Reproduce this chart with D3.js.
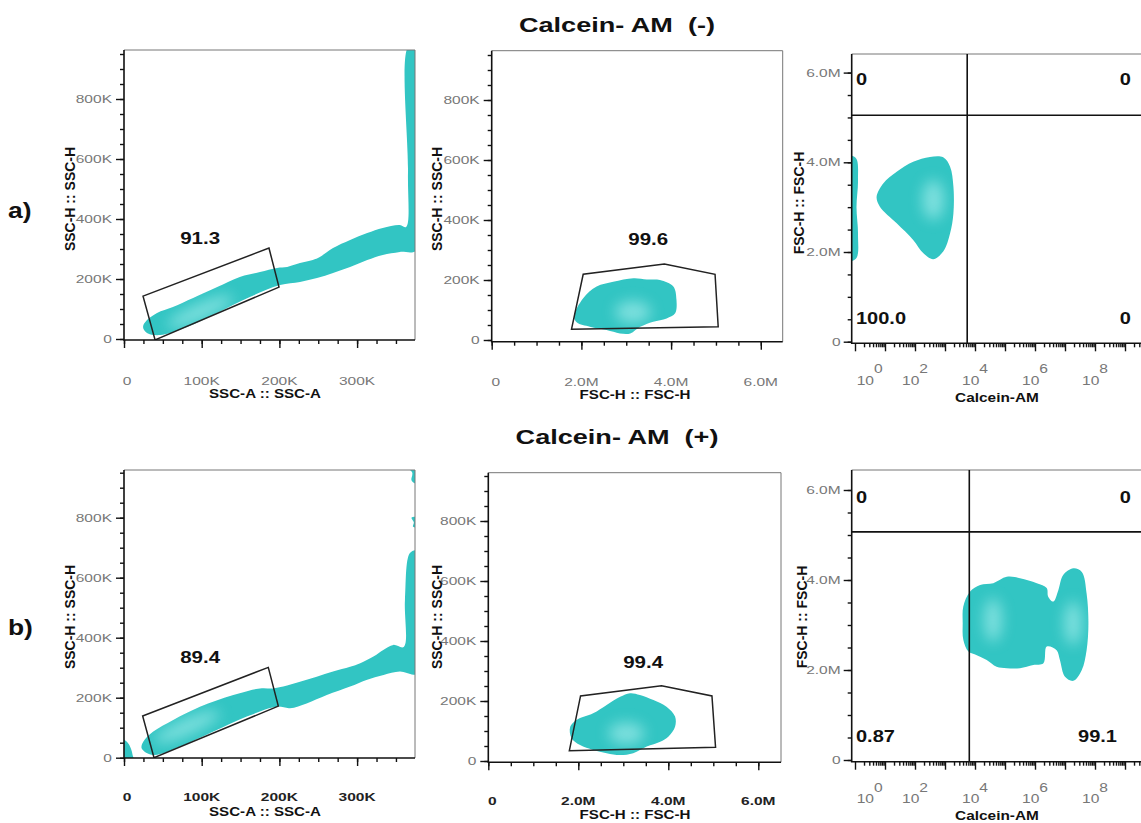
<!DOCTYPE html>
<html>
<head>
<meta charset="utf-8">
<script src="https://cdn.jsdelivr.net/npm/d3@7"></script>
<style>
  body { margin: 0; background: #fff; }
  svg { display: block; }
</style>
</head>
<body>
<div id="chart"></div>
<script>
// values
var headers = ["Calcein- AM  (-)", "Calcein- AM  (+)"];
var rowLabels = ["a)", "b)"];

// tick values (SSC in thousands, FSC in millions, Calcein as log10 exponent)
var sscATicks = [0, 100, 200, 300];
var sscHTicks = [0, 200, 400, 600, 800];
var fscTicks = [0, 2, 4, 6];
var calExpLabels = [0, 2, 4, 6, 8];

var gatePct = [["91.3", "99.6"], ["89.4", "99.4"]];
// quadrant stats: upper-left, upper-right, lower-left, lower-right
var quadPct = [["0", "0", "100.0", "0"], ["0", "0", "0.87", "99.1"]];
var quadCutExp = [3.74, 3.81];
var quadCutFsc = [5.05, 5.07];

// where FlowJo put the gate percentages (data units)
var sscPctAt = [[98, 338], [98, 336]];
var fscPctAt = [[3.49, 336], [3.44, 331]];

// SSC-A vs SSC-H populations (K, K)
var sscBand_a = [[29.6,20],[46.3,13],[81,40],[119.7,87],[162,140],[200.8,180],[226.5,190],[248.4,203],[269,220],[291,240],[313,263],[333,280],[355,290],[377,297],[377,975],[366,975],[365.5,553],[363,373],[355,380],[333,370],[313,353],[291,330],[269,303],[252,273],[243,263],[226.5,253],[210,240],[197,237],[175,223],[149,207],[120,173],[89,137],[63,107],[42.5,87],[29.6,63],[24.5,40]];
var sscBand_b = [[22.8,31],[37.7,9],[72,37],[115,87],[158,137],[196.5,170],[213.6,165],[235,181],[261,209],[291,237],[312,259],[334,276],[355,287],[377,281],[377,690],[368,682],[361.6,526],[360,369],[346.6,376],[333.7,359],[321,337],[304,315],[291,303],[269,287],[248,270],[226.5,253],[205,237],[192,231],[175,231],[140.7,209],[97.8,170],[63.4,126],[37.7,87],[24.8,53]];
var sscSpecks_b = [
  [[-4,64],[4,52],[9,30],[11,10],[12,-6],[-4,-6]],
  [[366,965],[371,950],[370,925],[374,915],[380,915],[380,965]],
  [[370,800],[373,785],[372,770],[380,770],[380,800]]
];
var sscGate_a = [[24.5,143],[186.6,303],[199.5,173],[40,-3]];
var sscGate_b = [[24,139],[185.7,301],[198.6,172],[38.6,0]];
var sscCore_a = [[98, 91]];
var sscCore_b = [[81, 103]];

// FSC-H vs SSC-H populations (M, K)
var fscBlob_a = [[1.835,78],[2.04,139],[2.34,178],[2.71,194],[3.16,206],[3.46,202],[3.75,200],[4.05,178],[4.12,133],[4.09,89],[3.9,72],[3.6,61],[3.31,44],[3.09,22],[2.86,22],[2.56,33],[2.19,44],[1.9,58]];
var fscBlob_b = [[1.82,114],[1.96,137],[2.33,159],[2.63,187],[2.93,214],[3.15,226],[3.37,220],[3.67,203],[3.96,181],[4.15,148],[4.15,114],[4.0,81],[3.82,64],[3.52,48],[3.22,26],[2.93,20],[2.63,26],[2.33,37],[2.04,53],[1.85,76]];
var fscGate_a = [[1.78,36],[2.04,219],[3.85,253],[4.98,219],[5.05,44]];
var fscGate_b = [[1.8,34],[2.05,217],[3.85,251],[4.97,217],[5.05,46]];
var fscCore_a = [[3.15, 93]];
var fscCore_b = [[3.07, 92]];

// Calcein-AM (log10) vs FSC-H (M)
var calBlob_a = [[0.72,3.23],[0.94,3.53],[1.39,3.79],[1.94,4.01],[2.5,4.12],[2.94,4.11],[3.17,3.9],[3.28,3.46],[3.28,2.86],[3.17,2.42],[2.94,2.01],[2.61,1.84],[2.28,1.97],[1.94,2.27],[1.39,2.64],[0.83,3.01]];
var calEdge_a = [[-0.4,4.12],[0.02,4.1],[0.1,3.6],[0.05,3.0],[0.1,2.4],[0.03,1.85],[-0.4,1.82]];
var calBlob_b = [[3.61,3.41],[3.83,3.74],[4.17,3.89],[4.61,3.93],[5.06,4.07],[5.5,4.04],[6.06,3.93],[6.39,3.82],[6.44,3.63],[6.61,3.52],[6.78,3.78],[6.94,4.11],[7.28,4.26],[7.56,4.18],[7.72,3.7],[7.78,3.04],[7.72,2.44],[7.56,2.0],[7.28,1.76],[7.0,1.85],[6.83,2.22],[6.72,2.44],[6.39,2.52],[6.28,2.15],[5.94,2.11],[5.5,2.04],[5.06,2.04],[4.72,2.07],[4.39,2.22],[4.06,2.33],[3.78,2.41],[3.61,2.67],[3.59,3.04]];
var calCore_a = [[2.61, 3.16]];
var calCore_b = [[7.27, 3.04], [4.6, 3.11]];

// ---- layout ----
var rows = [
  { labelY: 218, headY: 31.5, xLabDy: 44.5, tickBold: false,
    ssc: {l:124, t:50, r:415, b:340, x0:124, y0:339, titleY:199},
    fsc: {l:491.7, t:50.7, r:782.7, b:341.7, x0:491.7, y0:340, pxM:44.85, titleY:199},
    cal: {l:851.7, t:54, r:1145, b:343.3, y0:341.7, pxM:44.85, titleY:203},
    qPos: [[856,"start",85],[1131,"end",85],[856,"start",324.3],[1131,"end",324.3]] },
  { labelY: 635, headY: 444, xLabDy: 43, tickBold: true,
    ssc: {l:124, t:470, r:415, b:758, x0:124, y0:757.7, titleY:617},
    fsc: {l:488.3, t:472.7, r:781, b:762.3, x0:488.3, y0:761, pxM:45, titleY:617},
    cal: {l:851.7, t:470, r:1145, b:761.7, y0:760, pxM:45, titleY:617},
    qPos: [[856,"start",503],[1131,"end",503],[856,"start",742],[1117,"end",742]] }
];

var cyan = "#31c5c3";
var W = 1141, H = 823;
var svg = d3.select("#chart").append("svg").attr("width", W).attr("height", H);
var defs = svg.append("defs");
defs.append("filter").attr("id", "soft").append("feGaussianBlur").attr("stdDeviation", 0.6);
defs.append("filter").attr("id", "glow")
  .attr("x", "-100%").attr("y", "-100%").attr("width", "300%").attr("height", "300%")
  .append("feGaussianBlur").attr("stdDeviation", 7);
var idN = 0;

function txt(g, x, y, s, o) {
  o = o || {};
  var tr = "translate(" + x + "," + y + ")";
  if (o.sx) tr += " scale(" + o.sx + ",1)";
  if (o.rot) tr += " rotate(" + o.rot + ")";
  var t = g.append("text")
    .attr("transform", tr)
    .attr("text-anchor", o.anchor || "middle")
    .attr("font-family", "'Liberation Sans', Arial, sans-serif")
    .attr("font-size", o.size || 12)
    .attr("font-weight", o.bold ? "bold" : "normal")
    .attr("fill", o.fill || "#111")
    .style("white-space", "pre")
    .text(s);
  if (o.mid) t.attr("dominant-baseline", "central");
  return t;
}

function frame(box) {
  var g = svg.append("g");
  var id = "clip" + (idN++);
  defs.append("clipPath").attr("id", id).append("rect")
    .attr("x", box.l).attr("y", box.t)
    .attr("width", Math.min(box.r, W) - box.l).attr("height", box.b - box.t);
  var plot = g.append("g").attr("clip-path", "url(#" + id + ")");
  g.append("path")
    .attr("d", "M" + box.l + "," + box.t + "H" + box.r + "V" + box.b)
    .attr("fill", "none").attr("stroke", "#777").attr("stroke-width", 1);
  g.append("path")
    .attr("d", "M" + box.l + "," + box.t + "V" + box.b + "H" + box.r)
    .attr("fill", "none").attr("stroke", "#111").attr("stroke-width", 1.6);
  return { g: g, plot: plot };
}

function ticks(g, box, scale, major, minor, side) {
  [[major, 8], [minor, 4]].forEach(function (m) {
    var ax = side === "left" ? d3.axisLeft(scale) : d3.axisBottom(scale);
    ax.tickValues(m[0]).tickSize(m[1]).tickFormat("");
    g.append("g")
      .attr("transform", side === "left" ? "translate(" + box.l + ",0)" : "translate(0," + box.b + ")")
      .attr("color", "#111")
      .call(ax)
      .call(function (a) { a.select(".domain").remove(); a.selectAll("line").attr("stroke-width", 1.4); });
  });
}

var blobLine = d3.line().curve(d3.curveCatmullRomClosed.alpha(0.5));
var gateLine = d3.line().curve(d3.curveLinearClosed);

function blob(plot, pts, x, y, cores, shape) {
  var d = blobLine(pts.map(function (p) { return [x(p[0]), y(p[1])]; }));
  plot.append("path").attr("d", d).attr("fill", cyan).attr("filter", "url(#soft)");
  if (!cores) return;
  var id = "blob" + (idN++);
  defs.append("clipPath").attr("id", id).append("path").attr("d", d);
  var cg = plot.append("g").attr("clip-path", "url(#" + id + ")");
  cores.forEach(function (c) {
    var cx = x(c[0]), cy = y(c[1]);
    cg.append("ellipse")
      .attr("cx", cx).attr("cy", cy).attr("rx", shape.rx).attr("ry", shape.ry)
      .attr("transform", "rotate(" + (shape.rot || 0) + "," + cx + "," + cy + ")")
      .attr("fill", "#c9fbf9").attr("opacity", 0.5).attr("filter", "url(#glow)");
  });
}

function gate(plot, pts, x, y) {
  plot.append("path")
    .attr("d", gateLine(pts.map(function (p) { return [x(p[0]), y(p[1])]; })))
    .attr("fill", "none").attr("stroke", "#222").attr("stroke-width", 1.5);
}

function range(a, b, s) { var r = []; for (var v = a; v <= b + 1e-9; v += s) r.push(+v.toFixed(3)); return r; }

rows.forEach(function (row, ri) {
  // header + row letter
  txt(svg, 617, row.headY, headers[ri], { size: 21, bold: true, sx: 1.29 });
  txt(svg, 8, row.labelY, rowLabels[ri], { size: 22, bold: true, sx: 1.2, anchor: "start" });

  var xLabFill = row.tickBold ? "#222" : "#777";
  var xLabBold = row.tickBold;

  // ---- SSC-A vs SSC-H ----
  var b = row.ssc;
  var x = d3.scaleLinear().domain([0, 100]).range([b.x0, b.x0 + 77.7]);
  var y = d3.scaleLinear().domain([0, 200]).range([b.y0, b.y0 - 60]);
  var f = frame(b);
  blob(f.plot, ri ? sscBand_b : sscBand_a, x, y, ri ? sscCore_b : sscCore_a, { rx: 36, ry: 8, rot: -24 });
  if (ri) sscSpecks_b.forEach(function (s) { blob(f.plot, s, x, y); });
  gate(f.plot, ri ? sscGate_b : sscGate_a, x, y);
  ticks(f.g, b, y, sscHTicks, range(0, 950, 50), "left");
  ticks(f.g, b, x, sscATicks, range(0, 350, 25), "bottom");
  sscHTicks.forEach(function (v) {
    txt(f.g, b.l - 12, y(v) + 4, v ? v + "K" : "0", { size: 11.5, sx: 1.35, fill: "#777", anchor: "end" });
  });
  sscATicks.forEach(function (v) {
    txt(f.g, x(v) + (v ? 0 : 3), b.b + row.xLabDy, v ? v + "K" : "0", { size: 11.5, sx: 1.35, fill: xLabFill, bold: xLabBold });
  });
  txt(f.g, 265, b.b + 58, "SSC-A :: SSC-A", { size: 13.5, bold: true, sx: 1.12 });
  txt(f.g, 70, b.titleY, "SSC-H :: SSC-H", { size: 14, bold: true, rot: -90, mid: true });
  var pa = sscPctAt[ri];
  txt(f.g, x(pa[0]), y(pa[1]) + 6, gatePct[ri][0], { size: 16, bold: true, sx: 1.28 });

  // ---- FSC-H vs SSC-H ----
  b = row.fsc;
  x = d3.scaleLinear().domain([0, 2]).range([b.x0, b.x0 + 2 * b.pxM]);
  y = d3.scaleLinear().domain([0, 200]).range([b.y0, b.y0 - 60]);
  f = frame(b);
  blob(f.plot, ri ? fscBlob_b : fscBlob_a, x, y, ri ? fscCore_b : fscCore_a, { rx: 18, ry: 11 });
  gate(f.plot, ri ? fscGate_b : fscGate_a, x, y);
  ticks(f.g, b, y, sscHTicks, range(0, 950, 50), "left");
  ticks(f.g, b, x, fscTicks, range(0, 6, 0.5), "bottom");
  sscHTicks.forEach(function (v) {
    txt(f.g, b.l - 12, y(v) + 4, v ? v + "K" : "0", { size: 11.5, sx: 1.35, fill: "#777", anchor: "end" });
  });
  fscTicks.forEach(function (v) {
    txt(f.g, x(v) + (v ? 0 : 4), b.b + row.xLabDy, v ? v.toFixed(1) + "M" : "0", { size: 11.5, sx: 1.35, fill: xLabFill, bold: xLabBold });
  });
  txt(f.g, 635, b.b + 57, "FSC-H :: FSC-H", { size: 13.5, bold: true, sx: 1.12 });
  txt(f.g, 437, b.titleY, "SSC-H :: SSC-H", { size: 14, bold: true, rot: -90, mid: true });
  pa = fscPctAt[ri];
  txt(f.g, x(pa[0]), y(pa[1]) + 6, gatePct[ri][1], { size: 16, bold: true, sx: 1.28 });

  // ---- Calcein-AM vs FSC-H ----
  b = row.cal;
  var xl = d3.scaleLog().domain([1, 1e4]).range([855, 975]);
  x = function (e) { return xl(Math.pow(10, e)); };
  y = d3.scaleLinear().domain([0, 2]).range([b.y0, b.y0 - 2 * b.pxM]);
  f = frame(b);
  if (ri) {
    blob(f.plot, calBlob_b, x, y, calCore_b, { rx: 9, ry: 22 });
  } else {
    blob(f.plot, calEdge_a, x, y);
    blob(f.plot, calBlob_a, x, y, calCore_a, { rx: 11, ry: 20 });
  }
  // quadrant lines
  f.g.append("line").attr("x1", x(quadCutExp[ri])).attr("x2", x(quadCutExp[ri]))
    .attr("y1", b.t).attr("y2", b.b).attr("stroke", "#111").attr("stroke-width", 1.6);
  f.g.append("line").attr("x1", b.l).attr("x2", b.r)
    .attr("y1", y(quadCutFsc[ri])).attr("y2", y(quadCutFsc[ri])).attr("stroke", "#111").attr("stroke-width", 1.6);
  var decades = range(0, 9, 1).map(function (e) { return Math.pow(10, e); });
  var minor = [];
  decades.forEach(function (d) { for (var j = 2; j <= 9; j++) minor.push(d * j); });
  ticks(f.g, b, y, fscTicks, range(0, 6, 0.5), "left");
  ticks(f.g, b, xl, decades, minor, "bottom");
  fscTicks.forEach(function (v) {
    txt(f.g, b.l - 11, y(v) + 4, v ? v.toFixed(1) + "M" : "0", { size: 11.5, sx: 1.35, fill: "#777", anchor: "end" });
  });
  calExpLabels.forEach(function (e) {
    var cx = Math.max(x(e), b.l + 18);
    var t = txt(f.g, cx, b.b + 41.5, "10", { size: 12, sx: 1.3, fill: "#777" });
    t.append("tspan").attr("dy", -11.5).text(e);
  });
  txt(f.g, 997, b.b + 58.5, "Calcein-AM", { size: 13.5, bold: true, sx: 1.14 });
  txt(f.g, ri ? 802 : 799, b.titleY, "FSC-H :: FSC-H", { size: 14, bold: true, rot: -90, mid: true });
  quadPct[ri].forEach(function (s, qi) {
    var q = row.qPos[qi];
    txt(f.g, q[0], q[2], s, { size: 16, bold: true, sx: 1.25, anchor: q[1] });
  });
});
</script>
</body>
</html>
